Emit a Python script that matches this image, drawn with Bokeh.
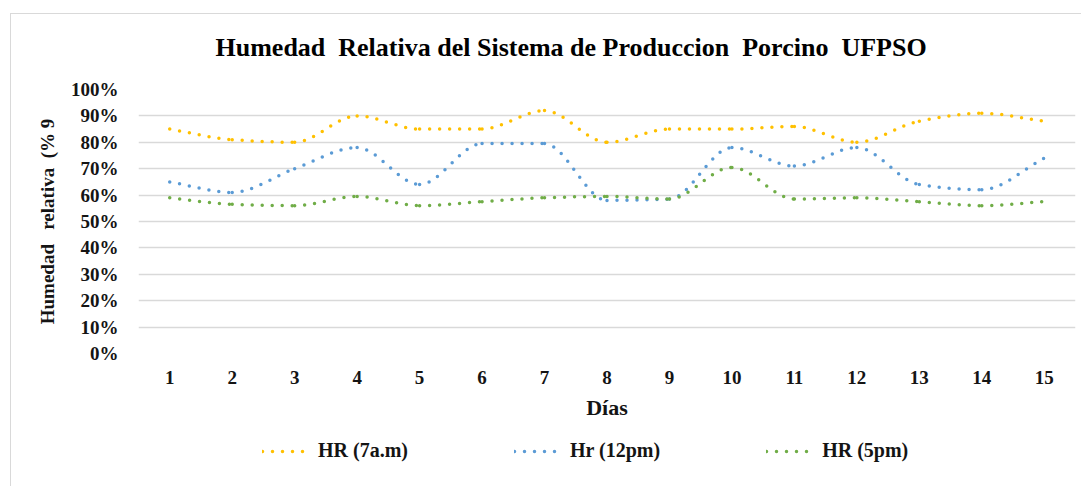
from bokeh.plotting import figure
from bokeh.layouts import column
from bokeh.models import (FixedTicker, PrintfTickFormatter, Legend, LegendItem,
                          ColumnDataSource, Range1d)
from bokeh.embed import file_html
from bokeh.resources import INLINE

# ---- data ----
days = list(range(1, 16))
hr_7am = [85, 81, 80, 90, 85, 85, 92, 80, 85, 85, 86, 80, 88, 91, 88]
hr_12pm = [65, 61, 70, 78, 64, 79.5, 79.5, 58, 58.5, 78, 71, 78, 64, 62, 74]
hr_5pm = [59, 56.5, 56, 59.5, 56, 57.5, 59, 59.5, 58.5, 70.5, 58.5, 59, 57.5, 56, 57.5]
series_labels = ["HR (7a.m)", "Hr (12pm)", "HR (5pm)"]
y_ticks = [0, 10, 20, 30, 40, 50, 60, 70, 80, 90, 100]

title_text = "Humedad\u00a0 Relativa del Sistema de Produccion\u00a0 Porcino\u00a0 UFPSO"
y_label = "Humedad\u00a0\u00a0 relativa\u00a0 (% 9"
x_label = "Días"

colors = ["#FFC000", "#5B9BD5", "#70AD47"]
FONT = "Liberation Serif"
TXT = "#141414"
DOTS = dict(line_width=3.5, line_dash="0 10", line_cap="round")
series = [hr_7am, hr_12pm, hr_5pm]


def smooth_source(xs, ys):
    """Smoothed segments as cubic beziers with monotone (non-overshooting) tangents."""
    n = len(xs)
    delta = [(ys[k + 1] - ys[k]) / (xs[k + 1] - xs[k]) for k in range(n - 1)]
    m = [0.0] * n
    m[0], m[-1] = delta[0], delta[-1]
    for k in range(1, n - 1):
        a, b = delta[k - 1], delta[k]
        m[k] = 0.0 if a * b <= 0 else 2 * a * b / (a + b)
    d = dict(x0=[], y0=[], x1=[], y1=[], cx0=[], cy0=[], cx1=[], cy1=[])
    for i in range(n - 1):
        h = xs[i + 1] - xs[i]
        d["x0"].append(xs[i]); d["y0"].append(ys[i])
        d["x1"].append(xs[i + 1]); d["y1"].append(ys[i + 1])
        d["cx0"].append(xs[i] + h / 3.0); d["cy0"].append(ys[i] + m[i] * h / 3.0)
        d["cx1"].append(xs[i + 1] - h / 3.0); d["cy1"].append(ys[i + 1] - m[i + 1] * h / 3.0)
    return ColumnDataSource(d)


p = figure(width=1070, height=424, x_range=(0.5, 15.5), y_range=(0, 100),
           output_backend="svg", toolbar_location=None,
           min_border_left=127, min_border_right=6, min_border_top=86,
           min_border_bottom=73)
p.margin = (-12, 0, 0, 0)
p.outline_line_color = None
p.background_fill_color = "white"
p.border_fill_alpha = 0

# title
p.title.text = title_text
p.title.text_font = FONT
p.title.text_font_size = "26px"
p.title.text_font_style = "bold"
p.title.text_color = "black"
p.title.align = "left"
p.title.offset = 77
p.title.standoff = 56

for ys, c in zip(series, colors):
    src = smooth_source(days, ys)
    p.bezier(x0="x0", y0="y0", x1="x1", y1="y1", cx0="cx0", cy0="cy0",
             cx1="cx1", cy1="cy1", source=src, line_color=c, **DOTS)

# axes
p.xaxis.ticker = FixedTicker(ticks=days)
p.yaxis.ticker = FixedTicker(ticks=y_ticks)
p.yaxis.formatter = PrintfTickFormatter(format="%d%%")
for ax in (p.xaxis, p.yaxis):
    ax.axis_line_color = None
    ax.major_tick_line_color = None
    ax.minor_tick_line_color = None
    ax.major_label_text_font = FONT
    ax.major_label_text_font_size = "19px"
    ax.major_label_text_font_style = "bold"
    ax.major_label_text_color = TXT
    ax.axis_label_text_font = FONT
    ax.axis_label_text_font_style = "bold"
    ax.axis_label_text_color = TXT
p.xaxis.axis_label_text_font_size = "22px"
p.yaxis.axis_label_text_font_size = "19px"
p.yaxis.major_label_standoff = 14
p.xaxis.major_label_standoff = 11
p.yaxis.axis_label = y_label
p.xaxis.axis_label = x_label
p.yaxis.axis_label_standoff = 10
p.xaxis.axis_label_standoff = 8

p.xgrid.visible = False
p.ygrid.grid_line_color = "#d9d9d9"
p.ygrid.grid_line_width = 1.3

# ---- legend strip below the chart (its key lines lie outside its view) ----
lg = figure(width=1070, height=60, x_range=Range1d(0, 0.5), y_range=Range1d(0, 1),
            output_backend="svg", toolbar_location=None,
            x_axis_type=None, y_axis_type=None,
            min_border_left=0, min_border_right=0, min_border_top=0,
            min_border_bottom=0)
lg.outline_line_color = None
lg.border_fill_alpha = 0
lg.background_fill_alpha = 0
lg.xgrid.visible = False
lg.ygrid.visible = False

keys = [lg.line(x=days, y=ys, line_color=c, **DOTS) for ys, c in zip(series, colors)]
legend = Legend(items=[LegendItem(label=l, renderers=[r])
                       for l, r in zip(series_labels, keys)],
                orientation="horizontal", location=(124, 24))
legend.border_line_color = None
legend.background_fill_alpha = 0
legend.label_text_font = FONT
legend.label_text_font_size = "20px"
legend.label_text_font_style = "bold"
legend.label_text_color = TXT
legend.glyph_width = 48
legend.glyph_height = 20
legend.label_standoff = 8
legend.spacing = 106
legend.padding = 0
legend.margin = 0
lg.add_layout(legend)

layout = column(p, lg, spacing=0)
layout.margin = (13, 0, 0, 10)
layout.styles = {"border-top": "1px solid #d9d9d9", "border-left": "1px solid #d9d9d9"}
open("out.html", "w").write(file_html(layout, INLINE))
